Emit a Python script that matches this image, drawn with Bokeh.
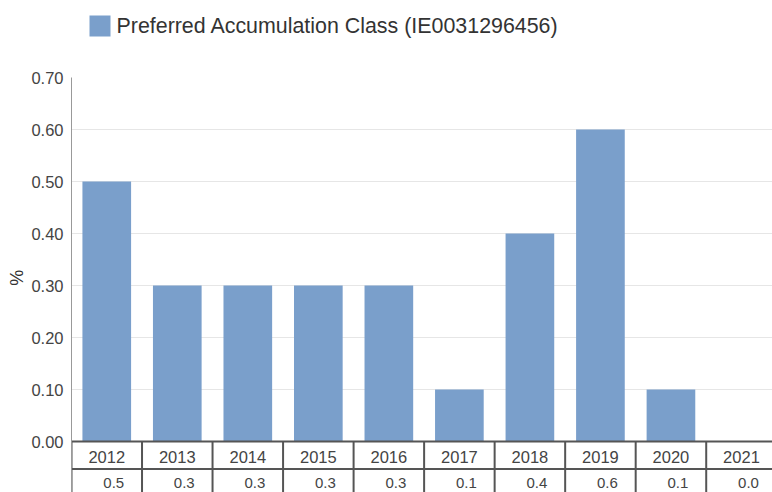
from bokeh.plotting import figure
from bokeh.layouts import column, row
from bokeh.models import Range1d, FixedTicker, NumeralTickFormatter, ColumnDataSource
from bokeh.embed import file_html
from bokeh.resources import INLINE
from bokeh.core.properties import value
import math

years = ["2012", "2013", "2014", "2015", "2016", "2017", "2018", "2019", "2020", "2021"]
values = [0.5, 0.3, 0.3, 0.3, 0.3, 0.1, 0.4, 0.6, 0.1, 0.0]
series_name = "Preferred Accumulation Class (IE0031296456)"
y_ticks = [0.0, 0.1, 0.2, 0.3, 0.4, 0.5, 0.6, 0.7]
y_label = "%"

FONT = "Liberation Sans"
BAR = "#7a9fcb"
TXT = "#444444"
TABLE = "#555555"

n = len(years)
centers = [i + 0.5 for i in range(n)]


def blank(w, h):
    f = figure(width=w, height=h, output_backend="svg", toolbar_location=None,
               x_axis_type=None, y_axis_type=None, x_range=Range1d(0, w), y_range=Range1d(h, 0),
               min_border=0)
    f.outline_line_color = None
    f.grid.visible = False
    return f


# header with legend
header = blank(772, 69)
header.scatter(x=[99.5], y=[25.5], marker="square", size=21, fill_color=BAR, line_color=None)
header.text(x=[116], y=[25], text=[series_name], text_align="left", text_baseline="middle",
            text_font=value(FONT), text_font_size="21.4px", text_color="#333333")

# left strip with y label
side = blank(25, 423)
side.text(x=[16], y=[204], text=[y_label], angle=math.pi / 2, text_align="center",
          text_baseline="middle", text_font=value(FONT), text_font_size="18px", text_color="#333333")

p = figure(width=747, height=423, output_backend="svg", toolbar_location=None,
           x_axis_type=None, x_range=Range1d(0, 9.94), y_range=Range1d(-0.098, 0.70),
           min_border_left=46, min_border_right=0, min_border_top=8, min_border_bottom=0)
p.outline_line_color = None
p.xgrid.visible = False
p.ygrid.ticker = FixedTicker(ticks=y_ticks)
p.ygrid.grid_line_color = "#e6e6e6"

yax = p.yaxis[0]
yax.ticker = FixedTicker(ticks=y_ticks)
yax.formatter = NumeralTickFormatter(format="0.00")
yax.major_tick_line_color = None
yax.minor_tick_line_color = None
yax.major_label_standoff = 2
yax.major_label_text_font = FONT
yax.major_label_text_font_size = "16.5px"
yax.major_label_text_color = TXT
yax.axis_line_color = "#999999"

src = ColumnDataSource(dict(x=centers, top=values, year=years,
                            val=["%.1f" % v for v in values]))
p.vbar(x="x", top="top", bottom=0, width=0.69, source=src, fill_color=BAR, line_color=None)

# table lines
y_year_mid = -0.030
y_sep = -0.053
y_val_mid = -0.080
y_bottom = -0.098
p.segment(x0=list(range(n + 1)), x1=list(range(n + 1)), y0=[0] * (n + 1), y1=[y_bottom] * (n + 1),
          line_color=TABLE, line_width=2)
p.segment(x0=[0, 0], x1=[n, n], y0=[0, y_sep], y1=[0, y_sep], line_color=TABLE, line_width=2)

p.text(x="x", y=y_year_mid, text="year", source=src, text_align="center", text_baseline="middle",
       text_font=value(FONT), text_font_size="16.5px", text_color=TXT)
p.text(x="x", y=y_val_mid, text="val", source=src, text_align="center", text_baseline="middle",
       text_font=value(FONT), text_font_size="15px", text_color=TXT, x_offset=7)

layout = column(header, row(side, p, spacing=0), spacing=0)
open("out.html", "w").write(file_html(layout, INLINE))
